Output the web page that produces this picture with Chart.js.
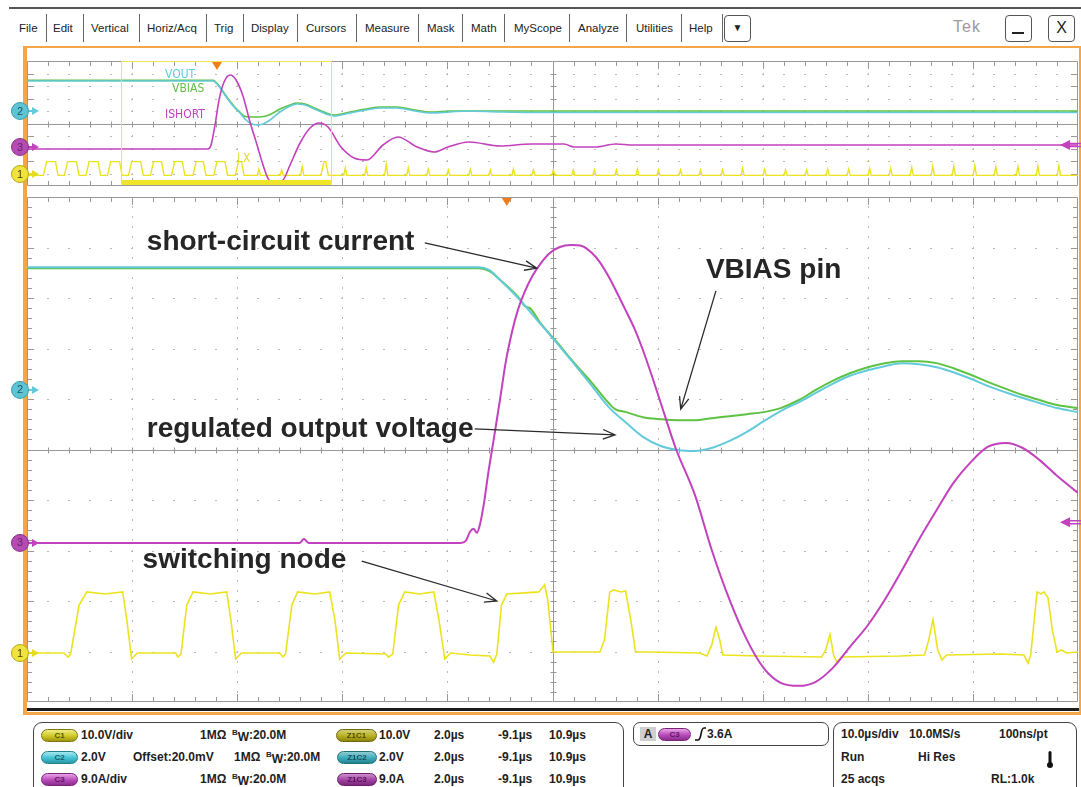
<!DOCTYPE html>
<html>
<head>
<meta charset="utf-8">
<script src="https://cdn.jsdelivr.net/npm/chart.js@4.4.1/dist/chart.umd.min.js"></script>
<style>
body{margin:0;width:1081px;height:787px;overflow:hidden;background:#fff;position:relative;font-family:'Liberation Sans',Arial,sans-serif}
.a{position:absolute}
#topline{left:9px;top:7px;width:1072px;height:2px;background:#555}
.menu{top:21px;font-size:11.5px;color:#222;white-space:nowrap;line-height:14px}
.sep{top:14px;width:1px;height:28px;background:#666}
.btn{top:15px;height:27px;width:27px;border:1.5px solid #555;border-radius:4px;box-sizing:border-box;text-align:center;color:#222}
#frame{left:23px;top:46px;width:1058px;height:669px;box-sizing:border-box;border:2px solid #f4a748;border-left-width:4px;border-bottom-width:3px}
#baseline{left:27px;top:708px;width:1052px;height:3px;background:#1b1b1b}
canvas{position:absolute;left:0}
.box{border:1.5px solid #444;border-radius:9px;box-sizing:border-box}
.t{font-size:12px;font-weight:bold;color:#1e1e1e;white-space:nowrap;line-height:14px}
.pill{height:13px;border-radius:7px;font-size:8px;font-weight:bold;text-align:center;line-height:12px;box-sizing:border-box}
.y1{background:linear-gradient(#efec85,#cfc823 55%,#9e9612);border:1px solid #7d760e;color:#5a5500}
.c2{background:linear-gradient(#a6e9f0,#42c2d3 55%,#2a97a6);border:1px solid #22808e;color:#1e5a66}
.m3{background:linear-gradient(#eba2e9,#b84ab9 55%,#8b2d8d);border:1px solid #772477;color:#5c1a5e}
.bw{font-size:8px;position:relative;top:-4px}
.bs{position:relative;top:2px}
</style>
</head>
<body>
<div id="topline" class="a"></div>
<div id="menubar"></div>
<div class="a btn" style="left:724px;font-size:10px;line-height:24px">▼</div>
<div class="a" style="left:953px;top:18px;font-size:16px;color:#9a9a9a;letter-spacing:1px">Tek</div>
<div class="a btn" style="left:1005px"><div class="a" style="left:6px;top:16px;width:12px;height:2px;background:#222"></div></div>
<div class="a btn" style="left:1048px;font-size:16px;line-height:24px">X</div>

<div id="frame" class="a"></div>
<div id="baseline" class="a"></div>
<canvas id="overview" width="1081" height="142" style="top:48px"></canvas>
<canvas id="main" width="1081" height="518" style="top:190px"></canvas>

<!-- channel readouts -->
<div class="a box" style="left:33px;top:722px;width:591px;height:80px"></div>
<div class="a pill y1" style="left:41px;top:729px;width:37px">C1</div>
<div class="a t" style="left:81px;top:728px">10.0V/div</div>
<div class="a t" style="left:200px;top:728px">1MΩ</div>
<div class="a t" style="left:232px;top:728px"><span class="bw">B</span><span class="bs">W</span>:20.0M</div>
<div class="a pill y1" style="left:336px;top:729px;width:41px;filter:brightness(.88)">Z1C1</div>
<div class="a t" style="left:379px;top:728px">10.0V</div>
<div class="a t" style="left:434px;top:728px">2.0µs</div>
<div class="a t" style="left:498px;top:728px">-9.1µs</div>
<div class="a t" style="left:549px;top:728px">10.9µs</div>

<div class="a pill c2" style="left:41px;top:751px;width:37px">C2</div>
<div class="a t" style="left:81px;top:750px">2.0V</div>
<div class="a t" style="left:133px;top:750px">Offset:20.0mV</div>
<div class="a t" style="left:234px;top:750px">1MΩ</div>
<div class="a t" style="left:266px;top:750px"><span class="bw">B</span><span class="bs">W</span>:20.0M</div>
<div class="a pill c2" style="left:337px;top:751px;width:40px;filter:brightness(.88)">Z1C2</div>
<div class="a t" style="left:379px;top:750px">2.0V</div>
<div class="a t" style="left:434px;top:750px">2.0µs</div>
<div class="a t" style="left:498px;top:750px">-9.1µs</div>
<div class="a t" style="left:549px;top:750px">10.9µs</div>

<div class="a pill m3" style="left:41px;top:773px;width:37px">C3</div>
<div class="a t" style="left:81px;top:772px">9.0A/div</div>
<div class="a t" style="left:200px;top:772px">1MΩ</div>
<div class="a t" style="left:232px;top:772px"><span class="bw">B</span><span class="bs">W</span>:20.0M</div>
<div class="a pill m3" style="left:337px;top:773px;width:40px;filter:brightness(.88)">Z1C3</div>
<div class="a t" style="left:379px;top:772px">9.0A</div>
<div class="a t" style="left:434px;top:772px">2.0µs</div>
<div class="a t" style="left:498px;top:772px">-9.1µs</div>
<div class="a t" style="left:549px;top:772px">10.9µs</div>

<!-- trigger readout -->
<div class="a box" style="left:633px;top:722px;width:196px;height:24px;border-radius:7px"></div>
<div class="a t" style="left:640px;top:727px;width:16px;height:14px;background:#cfcfcf;text-align:center">A</div>
<div class="a pill m3" style="left:658px;top:728px;width:33px">C3</div>
<svg class="a" style="left:694px;top:727px" width="12" height="14"><path d="M1 13 H4 Q6 13 7 7 Q8 1 10 1 H12" stroke="#111" fill="none" stroke-width="1.6"/></svg>
<div class="a t" style="left:707px;top:727px">3.6A</div>

<!-- horizontal / acquisition readout -->
<div class="a box" style="left:833px;top:722px;width:244px;height:80px"></div>
<div class="a t" style="left:841px;top:727px">10.0µs/div</div>
<div class="a t" style="left:909px;top:727px">10.0MS/s</div>
<div class="a t" style="left:999px;top:727px">100ns/pt</div>
<div class="a t" style="left:841px;top:750px">Run</div>
<div class="a t" style="left:918px;top:750px">Hi Res</div>
<svg class="a" style="left:1046px;top:750px" width="8" height="19"><rect x="2.5" y="1" width="3" height="13" rx="1.5" fill="#111"/><circle cx="4" cy="15" r="3" fill="#111"/></svg>
<div class="a t" style="left:841px;top:772px">25 acqs</div>
<div class="a t" style="left:991px;top:772px">RL:1.0k</div>

<script>
// ---- menu bar ----
const menuItems = ['File', 'Edit', 'Vertical', 'Horiz/Acq', 'Trig', 'Display', 'Cursors', 'Measure', 'Mask', 'Math', 'MyScope', 'Analyze', 'Utilities', 'Help'];
const menuLeft = [19, 53, 91, 147, 214, 251, 306, 365, 427, 471, 514, 578, 636, 689];
const menuSeps = [46, 83, 139, 206, 243, 297, 356, 418, 462, 504, 569, 626, 681, 722];

// ---- zoom window, trigger-relative time in us ----
const zoomWindow = [-9.13, 10.87];
const overviewRange = [-18.08, 81.92];

// ---- zoomed traces: [time us, divisions] ----
const voutMain = [[-9.13,3.61],[-0.53,3.61],[-0.33,3.55],[-0.13,3.36],[0.25,2.96],[0.63,2.50],[0.95,2.11],[1.27,1.71],[1.62,1.26],[1.94,0.84],[2.27,0.53],[2.59,0.25],[2.93,0.07],[3.25,-0.01],[3.58,-0.03],[3.90,0.03],[4.24,0.17],[4.57,0.35],[4.89,0.56],[5.21,0.76],[5.56,0.94],[5.88,1.12],[6.20,1.30],[6.53,1.46],[6.87,1.57],[7.19,1.65],[7.52,1.71],[7.84,1.69],[8.18,1.63],[8.50,1.53],[8.83,1.40],[9.15,1.26],[9.50,1.13],[9.82,1.02],[10.14,0.92],[10.47,0.82],[10.87,0.74]];
const vbiasMain = [[-9.13,3.59],[-0.53,3.59],[-0.33,3.53],[-0.13,3.36],[0.25,2.98],[0.34,2.84],[0.44,2.80],[0.63,2.52],[0.95,2.13],[1.27,1.73],[1.62,1.32],[1.94,0.92],[2.06,0.80],[2.27,0.74],[2.59,0.64],[2.93,0.60],[3.25,0.58],[3.58,0.58],[3.90,0.62],[4.24,0.66],[4.57,0.70],[4.89,0.74],[5.21,0.82],[5.56,0.98],[5.88,1.18],[6.20,1.36],[6.53,1.51],[6.87,1.63],[7.19,1.71],[7.52,1.75],[7.84,1.75],[8.18,1.71],[8.50,1.61],[8.83,1.48],[9.15,1.34],[9.50,1.20],[9.82,1.08],[10.14,0.98],[10.47,0.88],[10.87,0.82]];
const ishortMain = [[-9.13,-1.85],[-3.94,-1.85],[-3.86,-1.77],[-3.77,-1.85],[-0.88,-1.85],[-0.78,-1.81],[-0.70,-1.63],[-0.63,-1.57],[-0.57,-1.65],[-0.51,-1.48],[-0.44,-1.10],[-0.35,-0.45],[-0.25,0.19],[-0.13,0.98],[-0.02,1.73],[0.10,2.33],[0.21,2.76],[0.34,3.12],[0.49,3.44],[0.65,3.69],[0.82,3.89],[1.01,4.01],[1.22,4.05],[1.43,4.03],[1.62,3.89],[1.77,3.71],[1.94,3.42],[2.09,3.12],[2.26,2.76],[2.44,2.37],[2.59,1.97],[2.76,1.46],[2.93,0.92],[3.22,0.01],[3.58,-0.90],[3.90,-1.99],[4.24,-2.98],[4.57,-3.77],[4.89,-4.33],[5.21,-4.62],[5.56,-4.68],[5.88,-4.60],[6.20,-4.33],[6.53,-3.91],[6.87,-3.48],[7.19,-2.98],[7.52,-2.39],[7.84,-1.79],[8.18,-1.20],[8.50,-0.66],[8.83,-0.25],[9.15,0.05],[9.50,0.13],[9.82,0.03],[10.14,-0.21],[10.47,-0.52],[10.87,-0.86]];
const lxMain = [[-9.13,-4.03],[-8.43,-4.03],[-8.35,-4.11],[-8.30,-4.05],[-8.14,-3.08],[-7.99,-2.82],[-7.65,-2.86],[-7.31,-2.82],[-7.23,-3.38],[-7.14,-4.15],[-7.03,-4.03],
  [-6.30,-4.03],[-6.26,-4.11],[-6.20,-4.05],[-6.09,-3.08],[-5.97,-2.82],[-5.65,-2.86],[-5.33,-2.82],[-5.25,-3.38],[-5.16,-4.15],[-5.05,-4.03],
  [-4.32,-4.03],[-4.26,-4.11],[-4.21,-4.05],[-4.09,-3.08],[-3.98,-2.82],[-3.65,-2.86],[-3.37,-2.82],[-3.27,-3.38],[-3.18,-4.15],[-3.06,-4.03],
  [-2.30,-4.05],[-2.25,-4.11],[-2.17,-4.05],[-2.06,-3.08],[-1.94,-2.82],[-1.66,-2.86],[-1.39,-2.82],[-1.29,-3.38],[-1.18,-4.15],[-1.07,-4.03],
  [-0.70,-4.07],[-0.32,-4.09],[-0.25,-4.21],[-0.19,-4.05],[-0.10,-3.08],[0.00,-2.86],[0.34,-2.84],[0.61,-2.82],[0.72,-2.68],[0.78,-2.98],[0.88,-4.01],
  [1.39,-4.01],[1.77,-4.01],[1.86,-3.77],[1.96,-2.82],[2.04,-2.78],[2.17,-2.82],[2.26,-2.80],[2.36,-3.38],[2.45,-4.01],[2.72,-4.01],
  [3.67,-4.03],[3.81,-4.09],[3.90,-3.87],[3.98,-3.52],[4.05,-3.76],[4.11,-4.07],[4.81,-4.09],
  [5.99,-4.11],[6.07,-3.97],[6.15,-3.66],[6.22,-4.07],[6.28,-4.21],[6.37,-4.11],[7.48,-4.09],
  [7.95,-4.07],[8.03,-3.77],[8.11,-3.37],[8.20,-3.97],[8.28,-4.17],[8.37,-4.07],[9.38,-4.05],
  [9.84,-4.07],[9.92,-4.23],[9.97,-4.07],[10.09,-2.82],[10.17,-2.86],[10.22,-2.82],[10.30,-2.94],[10.38,-3.56],[10.47,-4.01],[10.56,-3.97],[10.65,-4.03],[10.87,-4.01]];

// ---- full-record traces ----
const voutOverview = [[-18.08,3.40],[-0.38,3.40],[0.29,2.84],[0.95,2.04],[1.62,1.32],[2.19,0.84],[2.66,0.36],[3.14,0.04],[3.81,-0.12],[4.38,-0.04],[5.04,0.28],[5.99,0.92],[6.95,1.40],[7.61,1.56],[8.37,1.48],[9.51,1.08],[11.13,0.60],[12.65,0.84],[14.18,1.08],[15.51,1.24],[17.13,1.24],[18.84,1.00],[20.36,0.84],[22.17,0.92],[23.69,1.00],[26.93,0.92],[30.0,0.88],[81.92,0.88]];
const vbiasOverview = [[-18.08,3.46],[-0.38,3.46],[0.29,2.90],[0.95,2.10],[1.62,1.38],[2.19,0.90],[2.57,0.60],[3.14,0.52],[3.90,0.52],[4.66,0.60],[5.33,0.84],[5.99,1.16],[6.95,1.48],[7.61,1.64],[8.37,1.56],[9.51,1.16],[11.13,0.68],[12.65,0.92],[14.18,1.16],[15.51,1.32],[17.13,1.32],[18.84,1.08],[20.36,0.92],[22.17,1.00],[26.93,1.00],[81.92,1.00]];
const ishortOverview = [[-18.08,-2.04],[-0.86,-2.04],[-0.57,-1.72],[-0.19,-0.12],[0.19,1.88],[0.67,3.32],[1.24,3.88],[1.81,3.48],[2.47,2.20],[3.14,0.12],[3.81,-1.72],[4.38,-3.32],[4.95,-4.52],[5.61,-4.68],[6.28,-4.52],[6.95,-3.32],[7.90,-1.56],[8.85,-0.36],[9.71,0.04],[10.56,-0.28],[11.80,-1.88],[13.04,-2.76],[14.27,-2.92],[15.79,-1.72],[17.22,-1.08],[19.03,-1.88],[20.65,-2.28],[21.98,-1.88],[23.98,-1.48],[26.93,-1.80],[29.88,-1.64],[33.02,-1.64],[33.97,-1.88],[35.97,-1.88],[37.96,-1.64],[39.58,-1.72],[81.92,-1.72]];
const lxOvLow = -4.15;
const lxOvHigh = -3.05;
const lxOvPulses = [[-16.4,-15.25],[-14.4,-13.25],[-12.35,-11.2],[-10.3,-9.15],[-8.3,-7.14],[-6.22,-5.16],[-4.21,-3.18],[-2.17,-1.18],[-0.19,0.88],[1.86,2.45],[10.0,10.47]];
const lxOvSpikes = [3.98,6.15,8.11,12.2,14.2,16.1,18.2,20.1,22.0,24.1,26.0,28.2,30.1,32.0,33.9,35.9,38.0,40.0,42.0,44.1,46.0,48.1,50.0,52.1,54.1,56.1,58.1,60.1,62.1,64.1,66.1,68.1,70.1,72.1,74.1,76.2,78.1,80.1];
const lxOvSpikeHeights = [0.5,0.45,0.7,0.6,0.6,0.9,0.6,0.5,0.45,0.5,0.45,0.5,0.45,0.45,0.45,0.45,0.45,0.5,0.45,0.45,0.45,0.45,0.55,0.5,0.45,0.45,0.5,0.5,0.55,0.55,0.65,0.75,0.75,0.8,0.7,0.7,0.75,0.8];

const colors = { ch1: '#ece31f', ch2: '#63cadc', ch3: '#c241bd', bias: '#5ec243' };

// menu
const bar = document.getElementById('menubar');
menuItems.forEach((m, i) => {
    const s = document.createElement('div');
    s.className = 'a menu'; s.style.left = menuLeft[i] + 'px'; s.textContent = m;
    bar.appendChild(s);
});
menuSeps.forEach(x => {
    const s = document.createElement('div');
    s.className = 'a sep'; s.style.left = x + 'px';
    bar.appendChild(s);
});

// build the switching-node record from its edges and spikes
function overviewLx() {
    const pts = [[overviewRange[0], lxOvLow]];
    lxOvPulses.forEach(([r, f]) => {
        pts.push([r - 0.12, lxOvLow], [r + 0.18, lxOvHigh], [f - 0.12, lxOvHigh], [f + 0.12, lxOvLow]);
    });
    lxOvSpikes.forEach((s, i) => {
        pts.push([s - 0.15, lxOvLow], [s, lxOvLow + lxOvSpikeHeights[i]], [s + 0.15, lxOvLow]);
    });
    pts.push([overviewRange[1], lxOvLow]);
    return pts.sort((a, b) => a[0] - b[0]);
}

const xy = arr => arr.map(([x, y]) => ({ x, y }));

function drawGraticule(ctx, a, yMinor) {
    const dx = a.width / 10, dy = a.height / 10;
    ctx.save();
    ctx.fillStyle = '#b9b9b9';
    for (let i = 1; i < 10; i++) {
        if (i === 5) continue;
        const gx = Math.round(a.left + i * dx), gy = Math.round(a.top + i * dy);
        for (let j = 1; j < 10 * yMinor; j++) ctx.fillRect(gx, Math.round(a.top + j * dy / yMinor) - 1, 1, 2);
        for (let j = 1; j < 50; j++) ctx.fillRect(Math.round(a.left + j * dx / 5) - 1, gy, 2, 1);
    }
    const cx = Math.round(a.left + 5 * dx) + 0.5, cy = Math.round(a.top + 5 * dy) + 0.5;
    ctx.strokeStyle = '#989898';
    ctx.lineWidth = 1;
    ctx.beginPath();
    ctx.rect(a.left + 0.5, a.top + 0.5, a.width - 1, a.height - 1);
    ctx.moveTo(a.left, cy); ctx.lineTo(a.right, cy);
    ctx.moveTo(cx, a.top); ctx.lineTo(cx, a.bottom);
    for (let j = 1; j < 50; j++) {
        const tx = Math.round(a.left + j * dx / 5) + 0.5;
        const len = j % 5 === 0 ? 8 : 5;
        ctx.moveTo(tx, a.top); ctx.lineTo(tx, a.top + len);
        ctx.moveTo(tx, a.bottom); ctx.lineTo(tx, a.bottom - len);
        ctx.moveTo(tx, cy - 3); ctx.lineTo(tx, cy + 3);
    }
    for (let j = 1; j < 10 * yMinor; j++) {
        const ty = Math.round(a.top + j * dy / yMinor) + 0.5;
        const len = j % yMinor === 0 ? 7 : 5;
        ctx.moveTo(a.left, ty); ctx.lineTo(a.left + len, ty);
        ctx.moveTo(a.right, ty); ctx.lineTo(a.right - len, ty);
        ctx.moveTo(cx - 3, ty); ctx.lineTo(cx + 3, ty);
    }
    ctx.stroke();
    ctx.restore();
}

function drawMarker(ctx, x, y, m) {
    ctx.save();
    ctx.fillStyle = m.color;
    ctx.strokeStyle = m.color;
    ctx.lineWidth = 2;
    ctx.beginPath(); ctx.moveTo(x + 6, y); ctx.lineTo(x + 14, y); ctx.stroke();
    ctx.beginPath(); ctx.moveTo(x + 12, y - 4); ctx.lineTo(x + 19, y); ctx.lineTo(x + 12, y + 4); ctx.fill();
    ctx.beginPath(); ctx.arc(x, y, 8.5, 0, Math.PI * 2);
    ctx.fillStyle = m.fill; ctx.fill();
    ctx.lineWidth = 1; ctx.strokeStyle = m.edge; ctx.stroke();
    ctx.fillStyle = m.ink;
    ctx.font = '11px "Liberation Sans", Arial, sans-serif';
    ctx.textAlign = 'center'; ctx.textBaseline = 'middle';
    ctx.fillText(m.label, x, y + 0.5);
    ctx.restore();
}

function drawArrow(ctx, x1, y1, x2, y2) {
    const ang = Math.atan2(y2 - y1, x2 - x1), L = 13, w = 0.38;
    ctx.beginPath();
    ctx.moveTo(x1, y1); ctx.lineTo(x2, y2);
    ctx.moveTo(x2 - L * Math.cos(ang - w), y2 - L * Math.sin(ang - w));
    ctx.lineTo(x2, y2);
    ctx.lineTo(x2 - L * Math.cos(ang + w), y2 - L * Math.sin(ang + w));
    ctx.stroke();
}

const scopePlugin = {
    id: 'scope',
    beforeDatasetsDraw(chart, args, o) {
        drawGraticule(chart.ctx, chart.chartArea, o.yMinor);
    },
    afterDatasetsDraw(chart, args, o) {
        const { ctx, chartArea: a, scales: { x, y } } = chart;
        ctx.save();
        // zoom window outline on the record view
        if (o.window) {
            const x1 = Math.round(x.getPixelForValue(o.window[0])) + 0.5;
            const x2 = Math.round(x.getPixelForValue(o.window[1])) + 0.5;
            ctx.strokeStyle = '#efe35a'; ctx.lineWidth = 1;
            ctx.strokeRect(x1, a.top + 0.5, x2 - x1, a.height - 3);
            ctx.fillStyle = '#f1e52a';
            ctx.fillRect(x1, a.bottom - 6, x2 - x1, 5);
        }
        // trigger position
        const tx = x.getPixelForValue(0);
        ctx.fillStyle = '#f07d1c';
        ctx.beginPath(); ctx.moveTo(tx - 5, a.top + 1); ctx.lineTo(tx + 5, a.top + 1); ctx.lineTo(tx, a.top + 9); ctx.fill();
        // trigger level arrow on the right
        const ry = y.getPixelForValue(o.trigLevel);
        ctx.strokeStyle = colors.ch3; ctx.fillStyle = colors.ch3; ctx.lineWidth = 1.5;
        ctx.beginPath(); ctx.moveTo(a.right - 10, ry - 1.5); ctx.lineTo(a.right + 3, ry - 1.5);
        ctx.moveTo(a.right - 10, ry + 1.5); ctx.lineTo(a.right + 3, ry + 1.5); ctx.stroke();
        ctx.beginPath(); ctx.moveTo(a.right - 18, ry); ctx.lineTo(a.right - 8, ry - 5); ctx.lineTo(a.right - 8, ry + 5); ctx.fill();
        // channel ground markers
        o.markers.forEach(m => drawMarker(ctx, a.left - 7, y.getPixelForValue(m.level), m));
        // trace labels and notes
        ctx.textBaseline = 'alphabetic';
        ctx.textAlign = 'left';
        o.labels.forEach(l => {
            ctx.font = l.font;
            ctx.fillStyle = l.color;
            ctx.fillText(l.text, x.getPixelForValue(l.t), y.getPixelForValue(l.v));
        });
        ctx.strokeStyle = '#2a2a2a'; ctx.lineWidth = 1.3;
        (o.arrows || []).forEach(([t1, v1, t2, v2]) => {
            drawArrow(ctx, x.getPixelForValue(t1), y.getPixelForValue(v1), x.getPixelForValue(t2), y.getPixelForValue(v2));
        });
        ctx.restore();
    }
};

function trace(data, color, width, smooth) {
    return {
        data: xy(data), borderColor: color, borderWidth: width,
        pointRadius: 0, fill: false,
        tension: smooth ? 0.4 : 0,
        cubicInterpolationMode: smooth ? 'monotone' : 'default'
    };
}

function scopeOptions(range, padding, scope) {
    return {
        responsive: false, animation: false, events: [],
        layout: { padding },
        scales: {
            x: { type: 'linear', min: range[0], max: range[1], display: false },
            y: { type: 'linear', min: -5, max: 5, display: false }
        },
        plugins: { legend: { display: false }, tooltip: { enabled: false }, scope }
    };
}

const markerStyles = {
    ch2: { label: '2', fill: '#5ec3d3', edge: '#3d9fb0', ink: '#1f5665', color: colors.ch2 },
    ch3: { label: '3', fill: '#b54cb4', edge: '#8a2f8a', ink: '#6a1f6a', color: colors.ch3 },
    ch1: { label: '1', fill: '#f0e43a', edge: '#b5a818', ink: '#4a4400', color: '#e8dc20' }
};

const labelFont = '12px "Liberation Sans Narrow", "DejaVu Sans Condensed", sans-serif';
const noteFont = 'bold 28px "Liberation Sans", Arial, sans-serif';

// full record, 10 us/div
new Chart(document.getElementById('overview'), {
    type: 'line',
    data: {
        datasets: [
            trace(ishortOverview, colors.ch3, 1.6, true),
            trace(voutOverview, colors.ch2, 1.6, true),
            trace(vbiasOverview, colors.bias, 1.6, true),
            trace(overviewLx(), colors.ch1, 1.4, false)
        ]
    },
    options: scopeOptions(overviewRange, { left: 27, right: 3, top: 13, bottom: 4 }, {
        yMinor: 1,
        window: zoomWindow,
        trigLevel: -1.72,
        markers: [
            { ...markerStyles.ch2, level: 1.0 },
            { ...markerStyles.ch3, level: -1.88 },
            { ...markerStyles.ch1, level: -4.04 }
        ],
        labels: [
            { text: 'VOUT', t: -4.95, v: 3.64, color: colors.ch2, font: labelFont },
            { text: 'VBIAS', t: -4.28, v: 2.52, color: colors.bias, font: labelFont },
            { text: 'ISHORT', t: -4.95, v: 0.44, color: colors.ch3, font: labelFont },
            { text: 'LX', t: 1.9, v: -3.08, color: '#e6da30', font: labelFont }
        ]
    }),
    plugins: [scopePlugin]
});

// zoomed view, 2 us/div
new Chart(document.getElementById('main'), {
    type: 'line',
    data: {
        datasets: [
            trace(ishortMain, colors.ch3, 2, true),
            trace(voutMain, colors.ch2, 2, true),
            trace(vbiasMain, colors.bias, 2, true),
            trace(lxMain, colors.ch1, 1.6, false)
        ]
    },
    options: scopeOptions(zoomWindow, { left: 27, right: 3, top: 7, bottom: 6 }, {
        yMinor: 5,
        trigLevel: -1.44,
        markers: [
            { ...markerStyles.ch2, level: 1.18 },
            { ...markerStyles.ch3, level: -1.85 },
            { ...markerStyles.ch1, level: -4.03 }
        ],
        labels: [
            { text: 'short-circuit current', t: -6.85, v: 3.95, color: '#262626', font: noteFont },
            { text: 'VBIAS pin', t: 3.79, v: 3.40, color: '#262626', font: noteFont },
            { text: 'regulated output voltage', t: -6.85, v: 0.25, color: '#262626', font: noteFont },
            { text: 'switching node', t: -6.93, v: -2.35, color: '#262626', font: noteFont }
        ],
        arrows: [
            [-1.56, 4.09, 0.57, 3.59],
            [3.98, 3.14, 3.31, 0.80],
            [-0.61, 0.41, 2.06, 0.29],
            [-2.76, -2.21, -0.19, -3.0]
        ]
    }),
    plugins: [scopePlugin]
});
</script>
</body>
</html>
